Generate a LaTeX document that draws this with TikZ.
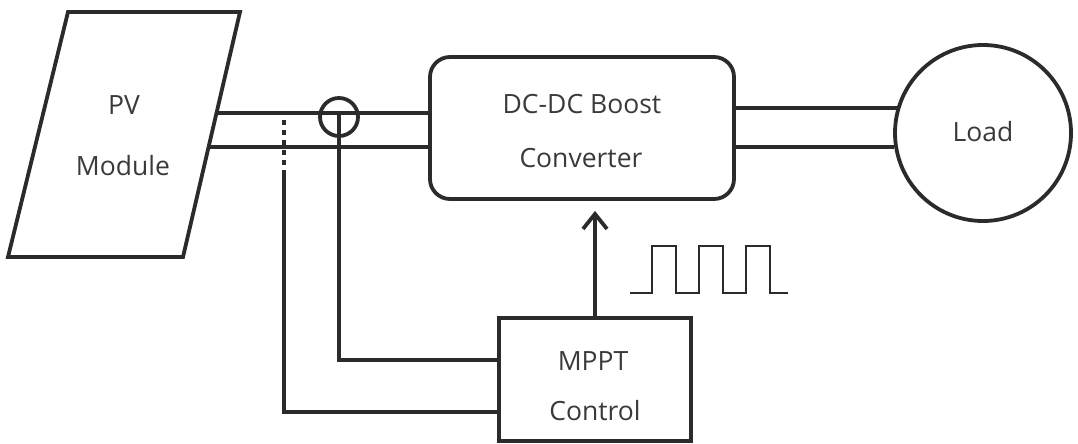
\documentclass[tikz,border=0pt]{standalone}
\usepackage{fontspec}
\setmainfont{Open Sans}
\usetikzlibrary{arrows.meta,calc}
\definecolor{ink}{HTML}{2B2B2B}
\definecolor{txt}{HTML}{3A3A3A}
\tikzset{
  wire/.style={draw=ink, line width=3.8pt},
  thin wire/.style={draw=ink, line width=2.2pt},
  blockbox/.style={draw=ink, line width=3.8pt, inner sep=0pt},
  lbl/.style={text=txt, anchor=base, inner sep=0pt, font=\fontsize{26.5}{30}\selectfont},
}
\begin{document}
\begin{tikzpicture}[x=1pt, y=-1pt]
\useasboundingbox (0,0) rectangle (1078,444);

% PV module (parallelogram)
\coordinate (pvTL) at (68,12);
\coordinate (pvTR) at (240,12);
\coordinate (pvBR) at (183,257);
\coordinate (pvBL) at (8,257);
\draw[wire, line join=miter] (pvTL) -- (pvTR) -- (pvBR) -- (pvBL) -- cycle;
\node[lbl] (pvA) at (124,114) {PV};
\node[lbl] (pvB) at (123,175) {Module};
\coordinate (pvOut1) at ($(pvTR)!0.4122!(pvBR)$);
\coordinate (pvOut2) at ($(pvTR)!0.5510!(pvBR)$);

% DC-DC boost converter
\node[blockbox, rounded corners=20pt, minimum width=304pt, minimum height=142pt] (dc) at (582,128) {};
\node[lbl] (dcA) at (582,113) {DC-DC Boost};
\node[lbl] (dcB) at (581,167) {Converter};

% Load
\node[blockbox, circle, minimum size=176pt] (load) at (983,133) {};
\node[lbl] (loadA) at (983,141) {Load};

% MPPT control
\node[blockbox, minimum width=192pt, minimum height=123pt] (mppt) at (595,379.5) {};
\node[lbl] (mpA) at (593,370) {MPPT};
\node[lbl] (mpB) at (595,420) {Control};

% current sensor
\node[blockbox, circle, minimum size=38pt] (sens) at (339,117) {};

% main wires
\draw[wire] (pvOut1) -- (dc.west |- pvOut1);
\draw[wire] (pvOut2) -- (dc.west |- pvOut2);
\draw[wire] (dc.east |- load.164.2) -- (load.164.2);
\draw[wire] (dc.east |- load.189.15) -- (load.189.15);

% current sense line
\coordinate (isTop) at (339,113);
\draw[wire] (isTop) -- (339,360) -- (mppt.west |- 0,360);

% voltage sense line
\coordinate (vsTop) at (284,120);
\coordinate (vsMid) at (284,170);
\coordinate (vsBot) at (284,412);
\draw[wire, dash pattern=on 5pt off 5pt] (vsTop) -- (vsMid);
\draw[wire] (vsMid) -- (vsBot) -- (mppt.west |- vsBot);

% control arrow
\draw[wire, -{Straight Barb[length=15pt, width=24pt, line width=3.8pt]}, shorten >=10pt]
  (mppt.north) -- (mppt.north |- dc.south);

% pulse train
\draw[thin wire, line join=miter] (630,293) -- (652,293) -- (652,246) -- (676,246) -- (676,293)
  -- (699,293) -- (699,246) -- (723,246) -- (723,293)
  -- (746,293) -- (746,246) -- (770,246) -- (770,293) -- (788,293);
\end{tikzpicture}
\end{document}
